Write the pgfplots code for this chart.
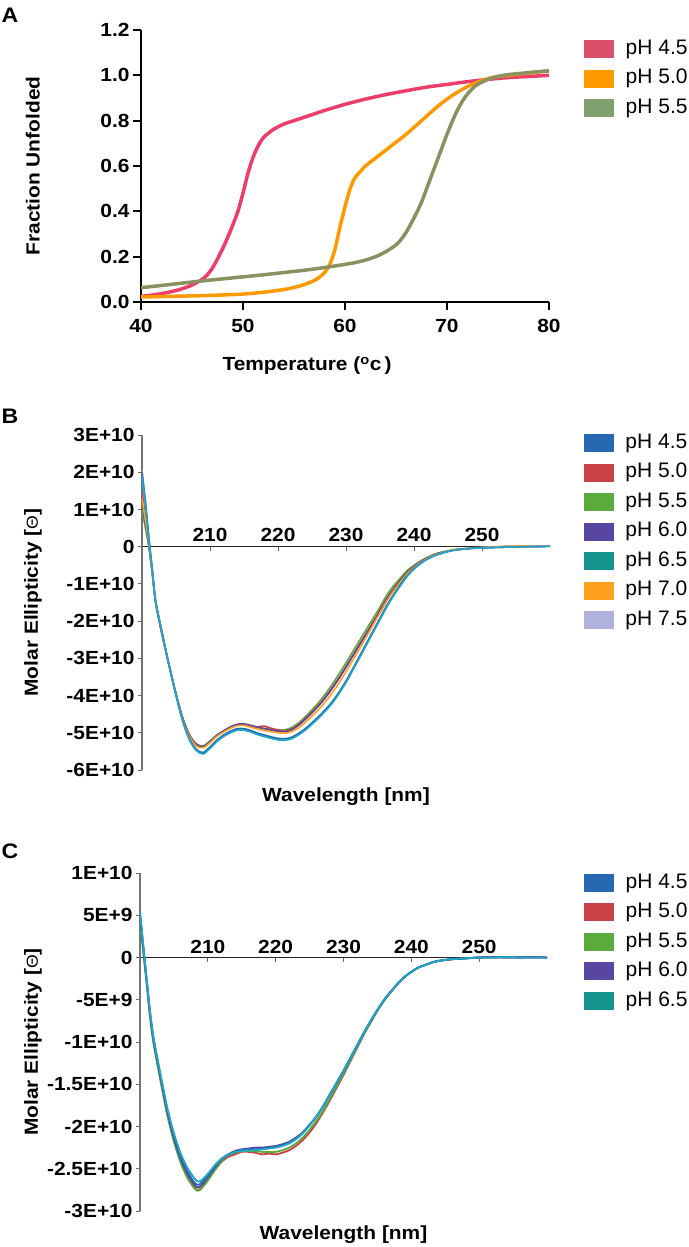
\documentclass[border=0pt]{standalone}
\usepackage{pgfplots}
\pgfplotsset{compat=1.18}
\usepackage{pgfplotstable}
\usepackage{fontspec}
\setmainfont{Liberation Sans}
\newfontfamily\bfont[FakeStretch=1.1]{Liberation Sans}
\newcommand{\tickfont}{\bfont\bfseries\fontsize{19}{21}\selectfont}
\newcommand{\labfont}{\bfont\bfseries\fontsize{19}{21}\selectfont}
\newcommand{\legfont}{\fontsize{21}{24}\selectfont}

\definecolor{aRed}{RGB}{236,62,104}
\definecolor{aRedS}{RGB}{218,80,106}
\definecolor{aOra}{RGB}{255,153,0}
\definecolor{aOli}{RGB}{138,145,96}
\definecolor{aOliS}{RGB}{128,160,112}
\definecolor{cBlue}{RGB}{38,104,178}
\definecolor{cRed}{RGB}{200,65,70}
\definecolor{cGreen}{RGB}{90,170,60}
\definecolor{cPurp}{RGB}{88,70,160}
\definecolor{cTeal}{RGB}{20,148,143}
\definecolor{cTealL}{RGB}{30,165,200}
\definecolor{cOra}{RGB}{255,160,30}
\definecolor{cLav}{RGB}{176,178,220}

\pgfplotsset{swatch/.style={legend image code/.code={\fill[##1] (0pt,-8.5pt) rectangle (29pt,8.5pt);}}}
\pgfplotsset{myleg/.style={legend style={draw=none, fill=none, font=\legfont, row sep=6.5pt, inner sep=0pt,
  nodes={inner sep=2pt, text height=15pt, text depth=4pt},
  /tikz/every odd column/.append style={column sep=10pt}}, legend cell align=left}}

\pgfplotstableread{
nm p45 p50 p55 p60 p65 p70 p75
200 2.0 1.5 1.0 1.2 1.9 1.3 2.05
200.5 1.2 0.8 0.5 0.6 1.1 0.7 1.25
201 0.25 0.1 0.0 0.05 0.2 0.1 0.3
201.5 -0.6 -0.65 -0.7 -0.68 -0.6 -0.65 -0.58
202 -1.45 -1.48 -1.5 -1.5 -1.45 -1.47 -1.44
203 -2.35 -2.38 -2.4 -2.4 -2.35 -2.37 -2.34
204 -3.2 -3.2 -3.2 -3.2 -3.2 -3.2 -3.2
205 -3.98 -3.96 -3.95 -3.96 -4.0 -3.97 -3.99
206 -4.68 -4.63 -4.6 -4.62 -4.7 -4.65 -4.69
207 -5.17 -5.08 -5.05 -5.07 -5.2 -5.1 -5.19
208 -5.45 -5.33 -5.3 -5.32 -5.48 -5.36 -5.47
209 -5.53 -5.38 -5.35 -5.37 -5.57 -5.4 -5.55
210 -5.38 -5.25 -5.22 -5.24 -5.42 -5.27 -5.4
211 -5.2 -5.08 -5.06 -5.07 -5.24 -5.1 -5.22
212 -5.06 -4.96 -4.95 -4.95 -5.1 -4.98 -5.08
213 -4.96 -4.86 -4.86 -4.84 -5.0 -4.88 -4.98
214 -4.89 -4.79 -4.8 -4.77 -4.93 -4.81 -4.91
215 -4.89 -4.78 -4.79 -4.76 -4.93 -4.8 -4.91
216 -4.94 -4.83 -4.82 -4.8 -4.98 -4.85 -4.96
217 -5.01 -4.84 -4.86 -4.85 -5.05 -4.9 -5.03
218 -5.06 -4.82 -4.88 -4.89 -5.1 -4.94 -5.08
219 -5.11 -4.88 -4.91 -4.93 -5.15 -4.97 -5.13
220 -5.15 -4.92 -4.93 -4.96 -5.19 -5.0 -5.17
221 -5.16 -4.95 -4.92 -4.97 -5.2 -5.01 -5.18
222 -5.12 -4.9 -4.86 -4.92 -5.16 -4.97 -5.14
223 -5.02 -4.78 -4.74 -4.8 -5.06 -4.87 -5.04
224 -4.89 -4.62 -4.57 -4.64 -4.93 -4.72 -4.91
225 -4.73 -4.44 -4.38 -4.46 -4.77 -4.55 -4.75
226 -4.56 -4.25 -4.18 -4.27 -4.6 -4.37 -4.58
227 -4.37 -4.03 -3.95 -4.05 -4.41 -4.16 -4.39
228 -4.16 -3.78 -3.69 -3.8 -4.2 -3.92 -4.18
229 -3.9 -3.51 -3.41 -3.53 -3.94 -3.65 -3.92
230 -3.61 -3.22 -3.12 -3.24 -3.65 -3.36 -3.63
231 -3.28 -2.92 -2.82 -2.94 -3.32 -3.05 -3.3
232 -2.94 -2.62 -2.52 -2.64 -2.98 -2.74 -2.96
233 -2.6 -2.32 -2.22 -2.34 -2.64 -2.42 -2.62
234 -2.26 -2.02 -1.92 -2.04 -2.3 -2.1 -2.28
235 -1.92 -1.71 -1.62 -1.73 -1.96 -1.78 -1.94
236 -1.58 -1.39 -1.3 -1.41 -1.62 -1.46 -1.6
237 -1.29 -1.13 -1.05 -1.14 -1.32 -1.19 -1.3
238 -1.02 -0.9 -0.84 -0.91 -1.05 -0.95 -1.03
239 -0.78 -0.69 -0.64 -0.7 -0.8 -0.73 -0.79
240 -0.59 -0.53 -0.5 -0.54 -0.6 -0.56 -0.59
241 -0.44 -0.4 -0.38 -0.41 -0.45 -0.42 -0.44
242 -0.33 -0.3 -0.28 -0.3 -0.33 -0.31 -0.33
243 -0.24 -0.21 -0.2 -0.22 -0.24 -0.22 -0.24
244 -0.18 -0.16 -0.15 -0.16 -0.18 -0.17 -0.18
245 -0.13 -0.12 -0.11 -0.12 -0.13 -0.12 -0.13
246 -0.09 -0.08 -0.08 -0.09 -0.09 -0.08 -0.09
248 -0.05 -0.05 -0.05 -0.05 -0.05 -0.04 -0.05
250 -0.03 -0.02 -0.03 -0.03 -0.03 -0.02 -0.03
252 -0.02 -0.01 -0.02 -0.01 -0.02 0.0 -0.02
254 -0.01 0.01 -0.01 0.0 -0.01 0.01 -0.01
256 0.0 0.0 0.0 0.01 0.0 0.02 0.0
258 0.0 0.02 0.01 0.0 0.0 0.01 0.01
260 0.01 0.02 0.02 0.02 0.01 0.03 0.02
}\tableB

\pgfplotstableread{
nm p45 p50 p55 p60 p65
200 0.53 0.45 0.4 0.5 0.55
200.5 0.12 0.08 0.05 0.1 0.13
201 -0.28 -0.3 -0.32 -0.29 -0.27
201.5 -0.66 -0.7 -0.72 -0.68 -0.65
202 -0.96 -1.0 -1.02 -0.98 -0.95
203 -1.39 -1.43 -1.45 -1.41 -1.37
204 -1.79 -1.84 -1.86 -1.81 -1.77
205 -2.11 -2.16 -2.18 -2.13 -2.08
206 -2.36 -2.41 -2.43 -2.38 -2.32
207 -2.53 -2.6 -2.61 -2.56 -2.49
208 -2.66 -2.72 -2.73 -2.69 -2.61
208.5 -2.69 -2.75 -2.76 -2.72 -2.65
209 -2.67 -2.73 -2.74 -2.7 -2.64
210 -2.58 -2.63 -2.64 -2.6 -2.56
211 -2.48 -2.52 -2.52 -2.49 -2.46
212 -2.39 -2.42 -2.41 -2.39 -2.38
213 -2.33 -2.36 -2.34 -2.33 -2.33
214 -2.3 -2.33 -2.31 -2.29 -2.3
215 -2.28 -2.3 -2.29 -2.27 -2.29
216 -2.27 -2.3 -2.29 -2.26 -2.28
217 -2.27 -2.31 -2.29 -2.25 -2.28
218 -2.26 -2.33 -2.3 -2.25 -2.27
219 -2.25 -2.32 -2.3 -2.24 -2.26
220 -2.24 -2.33 -2.3 -2.23 -2.25
221 -2.22 -2.31 -2.28 -2.21 -2.23
222 -2.19 -2.28 -2.25 -2.18 -2.2
223 -2.14 -2.23 -2.2 -2.13 -2.15
224 -2.07 -2.16 -2.13 -2.07 -2.08
225 -1.98 -2.07 -2.04 -1.98 -1.99
226 -1.88 -1.96 -1.93 -1.88 -1.88
227 -1.76 -1.83 -1.81 -1.76 -1.76
228 -1.62 -1.69 -1.67 -1.62 -1.62
229 -1.48 -1.54 -1.52 -1.48 -1.48
230 -1.34 -1.39 -1.37 -1.34 -1.34
231 -1.19 -1.23 -1.22 -1.19 -1.19
232 -1.04 -1.07 -1.06 -1.04 -1.04
233 -0.89 -0.91 -0.91 -0.89 -0.89
234 -0.75 -0.77 -0.76 -0.75 -0.75
235 -0.62 -0.63 -0.63 -0.62 -0.62
236 -0.5 -0.51 -0.51 -0.5 -0.5
237 -0.4 -0.41 -0.4 -0.4 -0.4
238 -0.31 -0.31 -0.31 -0.31 -0.31
239 -0.23 -0.23 -0.23 -0.23 -0.23
240 -0.17 -0.17 -0.17 -0.17 -0.17
241 -0.12 -0.12 -0.12 -0.12 -0.12
242 -0.09 -0.09 -0.09 -0.09 -0.09
243 -0.06 -0.06 -0.06 -0.06 -0.06
244 -0.04 -0.04 -0.04 -0.04 -0.04
246 -0.02 -0.02 -0.02 -0.02 -0.02
248 -0.01 -0.01 -0.01 -0.01 -0.01
250 0.0 0.0 0.0 0.0 0.0
252 0.0 0.005 0.0 0.005 0.0
254 0.005 0.0 0.005 0.0 0.005
256 0.0 0.005 0.0 0.0 0.0
258 0.0 0.0 0.005 0.005 0.0
260 0.0 0.0 0.0 0.0 0.0
}\tableC

\begin{document}
\begin{tikzpicture}[x=1pt,y=1pt]
\path[use as bounding box] (0,0) rectangle (688,-1247);
\node[font=\bfont\bfseries\fontsize{21}{24}\selectfont] at (10,-15) {A};
\node[font=\bfont\bfseries\fontsize{21}{24}\selectfont] at (10,-416) {B};
\node[font=\bfont\bfseries\fontsize{21}{24}\selectfont] at (10,-851) {C};

% ---------------- Panel A
\begin{axis}[
  at={(141pt,-302pt)}, anchor=south west,
  scale only axis, width=408pt, height=272pt,
  xmin=40, xmax=80, ymin=0, ymax=1.2,
  axis lines=left, axis line style={-, line width=2pt, black},
  tick style={line width=2pt, black}, tick align=outside, major tick length=8pt,
  xtick={40,50,60,70,80}, xticklabels={40,50,60,70,80},
  ytick={0,0.2,0.4,0.6,0.8,1.0,1.2}, yticklabels={0.0,0.2,0.4,0.6,0.8,1.0,1.2},
  ticklabel style={font=\tickfont},
  xticklabel style={yshift=-6pt},
  xlabel={Temperature (\textsuperscript{o}c\,)}, ylabel={Fraction Unfolded},
  label style={font=\labfont},
  xlabel style={at={(axis description cs:0.407,-0.235)}, anchor=center},
  ylabel style={at={(axis description cs:-0.265,0.5)}, anchor=center},
  myleg, legend style={at={(axis description cs:1.086,0.974)}, anchor=north west},
]
\addplot[aRed, line width=3.5pt, smooth, forget plot] coordinates {(40,0.025)(41,0.03)(42,0.037)(43,0.046)(44,0.058)(45,0.075)(46,0.10)(46.5,0.12)(47,0.15)(47.5,0.19)(48,0.235)(48.5,0.285)(49,0.34)(49.5,0.40)(50,0.48)(50.5,0.57)(51,0.64)(51.5,0.69)(52,0.725)(52.5,0.745)(53,0.762)(54,0.785)(55,0.80)(56,0.815)(57,0.83)(58,0.845)(60,0.872)(62,0.895)(64,0.915)(66,0.932)(68,0.948)(70,0.96)(72,0.972)(74,0.982)(76,0.99)(78,0.995)(80,1.0)};
\addplot[aOra, line width=3.5pt, smooth, forget plot] coordinates {(40,0.022)(42,0.024)(44,0.026)(46,0.028)(48,0.031)(50,0.035)(52,0.043)(54,0.055)(55,0.064)(56,0.077)(57,0.095)(57.5,0.11)(58,0.13)(58.5,0.165)(59,0.23)(59.5,0.33)(60,0.42)(60.5,0.5)(61,0.55)(61.5,0.575)(62,0.6)(63,0.635)(64,0.67)(65,0.705)(66,0.74)(67,0.78)(68,0.82)(69,0.86)(70,0.895)(71,0.925)(72,0.95)(73,0.97)(74,0.985)(75,0.995)(76,1.0)(78,1.01)(80,1.02)};
\addplot[aOli, line width=3.5pt, smooth, forget plot] coordinates {(40,0.063)(42,0.073)(44,0.083)(46,0.093)(48,0.102)(50,0.111)(52,0.12)(54,0.13)(56,0.14)(58,0.152)(60,0.166)(61,0.174)(62,0.185)(63,0.2)(64,0.222)(65,0.252)(65.5,0.276)(66,0.308)(66.5,0.348)(67,0.392)(67.5,0.44)(68,0.5)(68.5,0.56)(69,0.62)(69.5,0.68)(70,0.74)(70.5,0.795)(71,0.845)(71.5,0.885)(72,0.917)(72.5,0.942)(73,0.96)(74,0.982)(75,0.995)(76,1.003)(78,1.012)(80,1.02)};
\addlegendimage{swatch, aRedS}\addlegendentry{pH 4.5}
\addlegendimage{swatch, aOra}\addlegendentry{pH 5.0}
\addlegendimage{swatch, aOliS}\addlegendentry{pH 5.5}
\end{axis}

% ---------------- Panel B
\begin{axis}[
  at={(142pt,-770pt)}, anchor=south west,
  scale only axis, width=408pt, height=335pt,
  xmin=200, xmax=260, ymin=-6, ymax=3,
  axis x line=middle, axis y line=left,
  x axis line style={-, line width=1.3pt, black!85},
  y axis line style={-, line width=1.3pt, black!55},
  tick style={line width=1pt, black!60}, major tick length=4pt,
  xtick={210,220,230,240,250}, xticklabels={210,220,230,240,250},
  xtick align=outside, ytick align=outside,
  xticklabel style={anchor=south, font=\tickfont, yshift=5pt},
  ytick={-6,-5,-4,-3,-2,-1,0,1,2,3},
  yticklabels={-6E+10,-5E+10,-4E+10,-3E+10,-2E+10,-1E+10,0,1E+10,2E+10,3E+10},
  yticklabel style={font=\tickfont},
  xlabel={Wavelength [nm]}, ylabel={Molar Ellipticity [{\mdseries\fontsize{16}{16}\selectfont Θ}]},
  label style={font=\labfont},
  xlabel style={at={(axis description cs:0.5,-0.08)}, anchor=center},
  ylabel style={at={(axis description cs:-0.267,0.5)}, anchor=center, rotate=0},
  myleg, legend style={at={(axis description cs:1.083,1.012)}, anchor=north west},
]
\addplot[cGreen, line width=1.6pt, smooth, forget plot] table[x=nm,y=p55] {\tableB};
\addplot[cRed, line width=1.6pt, smooth, forget plot] table[x=nm,y=p50] {\tableB};
\addplot[cPurp, line width=1.6pt, smooth, forget plot] table[x=nm,y=p60] {\tableB};
\addplot[cOra, line width=1.6pt, smooth, forget plot] table[x=nm,y=p70] {\tableB};
\addplot[cLav, line width=1.6pt, smooth, forget plot] table[x=nm,y=p75] {\tableB};
\addplot[cBlue, line width=1.6pt, smooth, forget plot] table[x=nm,y=p45] {\tableB};
\addplot[cTealL, line width=1.6pt, smooth, forget plot] table[x=nm,y=p65] {\tableB};
\addlegendimage{swatch, cBlue}\addlegendentry{pH 4.5}
\addlegendimage{swatch, cRed}\addlegendentry{pH 5.0}
\addlegendimage{swatch, cGreen}\addlegendentry{pH 5.5}
\addlegendimage{swatch, cPurp}\addlegendentry{pH 6.0}
\addlegendimage{swatch, cTeal}\addlegendentry{pH 6.5}
\addlegendimage{swatch, cOra}\addlegendentry{pH 7.0}
\addlegendimage{swatch, cLav}\addlegendentry{pH 7.5}
\end{axis}

% ---------------- Panel C
\begin{axis}[
  at={(140pt,-1211pt)}, anchor=south west,
  scale only axis, width=407pt, height=338pt,
  xmin=200, xmax=260, ymin=-3, ymax=1,
  axis x line=middle, axis y line=left,
  x axis line style={-, line width=1.3pt, black!85},
  y axis line style={-, line width=1.3pt, black!55},
  tick style={line width=1pt, black!60}, major tick length=4pt,
  xtick={210,220,230,240,250}, xticklabels={210,220,230,240,250},
  xtick align=outside, ytick align=outside,
  xticklabel style={anchor=south, font=\tickfont, yshift=4pt},
  ytick={-3,-2.5,-2,-1.5,-1,-0.5,0,0.5,1},
  yticklabels={-3E+10,-2.5E+10,-2E+10,-1.5E+10,-1E+10,-5E+9,0,5E+9,1E+10},
  yticklabel style={font=\tickfont},
  xlabel={Wavelength [nm]}, ylabel={Molar Ellipticity [{\mdseries\fontsize{16}{16}\selectfont Θ}]},
  label style={font=\labfont},
  xlabel style={at={(axis description cs:0.5,-0.071)}, anchor=center},
  ylabel style={at={(axis description cs:-0.263,0.5)}, anchor=center},
  myleg, legend style={at={(axis description cs:1.091,1.006)}, anchor=north west},
]
\addplot[cRed, line width=1.8pt, smooth, forget plot] table[x=nm,y=p50] {\tableC};
\addplot[cGreen, line width=1.8pt, smooth, forget plot] table[x=nm,y=p55] {\tableC};
\addplot[cPurp, line width=1.8pt, smooth, forget plot] table[x=nm,y=p60] {\tableC};
\addplot[cBlue, line width=1.8pt, smooth, forget plot] table[x=nm,y=p45] {\tableC};
\addplot[cTealL, line width=1.8pt, smooth, forget plot] table[x=nm,y=p65] {\tableC};
\addlegendimage{swatch, cBlue}\addlegendentry{pH 4.5}
\addlegendimage{swatch, cRed}\addlegendentry{pH 5.0}
\addlegendimage{swatch, cGreen}\addlegendentry{pH 5.5}
\addlegendimage{swatch, cPurp}\addlegendentry{pH 6.0}
\addlegendimage{swatch, cTeal}\addlegendentry{pH 6.5}
\end{axis}
\end{tikzpicture}
\end{document}
